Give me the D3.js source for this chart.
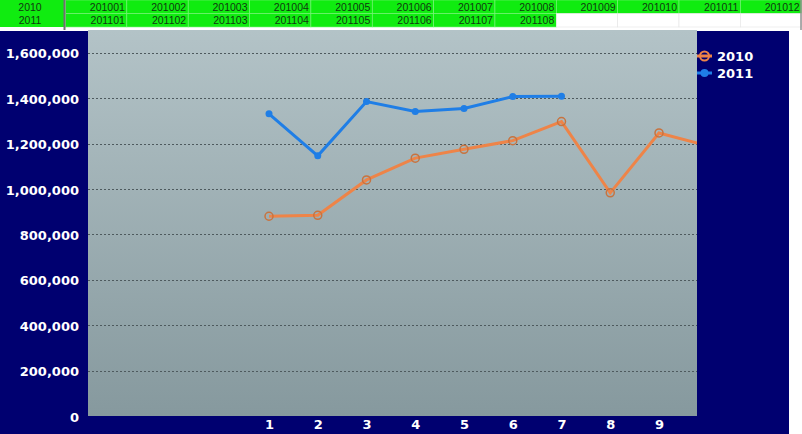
<!DOCTYPE html>
<html>
<head>
<meta charset="utf-8">
<script src="https://cdn.jsdelivr.net/npm/d3@7"></script>
<style>
  body { margin: 0; background: #ffffff; }
  svg { display: block; }
</style>
</head>
<body>
<div id="chart"></div>
<script>
// data
var months = [1, 2, 3, 4, 5, 6, 7, 8, 9, 10];
var tick_months = [1, 2, 3, 4, 5, 6, 7, 8, 9];
var sales_2010 = [880000, 884000, 1040000, 1136000, 1175000, 1213000, 1297000, 983000, 1247000, 1190000];
var sales_2011 = [1331000, 1146000, 1385000, 1341000, 1355000, 1407000, 1409000];
var y_ticks = [0, 200000, 400000, 600000, 800000, 1000000, 1200000, 1400000, 1600000];
var header_years = ['2010', '2011'];
var header_2010 = ['201001', '201002', '201003', '201004', '201005', '201006',
                   '201007', '201008', '201009', '201010', '201011', '201012'];
var header_2011 = ['201101', '201102', '201103', '201104', '201105', '201106',
                   '201107', '201108'];

var chart_width = 802;
var chart_height = 434;
var plot = { left: 88, right: 697, top: 30, bottom: 416 };
var navy = '#000070';
var green = '#10ec10';
var orange = '#ee8448';
var blue = '#1f7ee6';

var svg = d3.select('#chart')
      .append('svg')
      .attr('width', chart_width)
      .attr('height', chart_height);

// spreadsheet strip on top
var col_x0 = 65.5;
var col_w = 61.35;
var row_h = 13.5;

svg.append('rect')
   .attr('x', 0).attr('y', 0)
   .attr('width', 65).attr('height', row_h * 2)
   .attr('fill', green);

header_2010.forEach(function(d, i) {
  svg.append('rect')
     .attr('x', col_x0 + i * col_w).attr('y', 0)
     .attr('width', col_w).attr('height', row_h)
     .attr('fill', green)
     .attr('stroke', '#7cf27c').attr('stroke-width', 0.6);
  svg.append('rect')
     .attr('x', col_x0 + i * col_w).attr('y', row_h)
     .attr('width', col_w).attr('height', row_h)
     .attr('fill', i < header_2011.length ? green : '#ffffff')
     .attr('stroke', i < header_2011.length ? '#7cf27c' : '#e4e4e4')
     .attr('stroke-width', 0.6);
});

var header = svg.append('g')
   .attr('font-family', 'Liberation Sans, Arial, sans-serif')
   .attr('font-size', 10.5)
   .attr('fill', '#103810');

header.selectAll('.year')
   .data(header_years)
   .enter()
   .append('text')
   .attr('x', 30)
   .attr('y', function(d, i) { return 10.5 + i * row_h; })
   .attr('text-anchor', 'middle')
   .text(function(d) { return d; });

header.selectAll('.m2010')
   .data(header_2010)
   .enter()
   .append('text')
   .attr('x', function(d, i) { return col_x0 + (i + 1) * col_w - 2; })
   .attr('y', 10.5)
   .attr('text-anchor', 'end')
   .text(function(d) { return d; });

header.selectAll('.m2011')
   .data(header_2011)
   .enter()
   .append('text')
   .attr('x', function(d, i) { return col_x0 + (i + 1) * col_w - 2; })
   .attr('y', 10.5 + row_h)
   .attr('text-anchor', 'end')
   .text(function(d) { return d; });

svg.append('line')
   .attr('x1', 64.5).attr('x2', 64.5)
   .attr('y1', 0).attr('y2', 30)
   .attr('stroke', '#707070').attr('stroke-width', 2);
svg.append('line')
   .attr('x1', 801).attr('x2', 801)
   .attr('y1', 0).attr('y2', 30)
   .attr('stroke', '#909090').attr('stroke-width', 1.5);

// chart background
svg.append('rect')
   .attr('x', 0).attr('y', 31)
   .attr('width', 789).attr('height', chart_height - 31)
   .attr('fill', navy);

var grad = svg.append('defs')
   .append('linearGradient')
   .attr('id', 'plot-bg')
   .attr('x1', 0).attr('y1', 0).attr('x2', 0).attr('y2', 1);
grad.append('stop').attr('offset', '0%').attr('stop-color', '#b3c3c7');
grad.append('stop').attr('offset', '100%').attr('stop-color', '#86999e');

svg.append('rect')
   .attr('x', plot.left).attr('y', plot.top)
   .attr('width', plot.right - plot.left)
   .attr('height', plot.bottom - plot.top)
   .attr('fill', 'url(#plot-bg)');

svg.append('clipPath')
   .attr('id', 'plot-clip')
   .append('rect')
   .attr('x', plot.left).attr('y', plot.top)
   .attr('width', plot.right - plot.left)
   .attr('height', plot.bottom - plot.top);

// scales
var x_scale = d3.scaleLinear()
      .domain([1, 9])
      .range([269, 659]);

var y_scale = d3.scaleLinear()
      .domain([0, 1700000])
      .range([plot.bottom, plot.bottom - 1700000 / 200000 * 45.4]);

// grid
svg.append('g')
   .selectAll('line')
   .data(y_ticks.slice(1))
   .enter()
   .append('line')
   .attr('x1', plot.left).attr('x2', plot.right)
   .attr('y1', function(d) { return Math.round(y_scale(d)) + 0.5; })
   .attr('y2', function(d) { return Math.round(y_scale(d)) + 0.5; })
   .attr('stroke', '#4e5a5e')
   .attr('stroke-dasharray', '2,2');

// axes
var y_axis = d3.axisLeft(y_scale)
      .tickValues(y_ticks)
      .tickSize(0)
      .tickPadding(9)
      .tickFormat(d3.format(','));

var x_axis = d3.axisBottom(x_scale)
      .tickValues(tick_months)
      .tickSize(0)
      .tickPadding(4)
      .tickFormat(d3.format('d'));

svg.append('g')
   .attr('class', 'y-axis')
   .attr('transform', 'translate(' + plot.left + ', 1)')
   .call(y_axis);

svg.append('g')
   .attr('class', 'x-axis')
   .attr('transform', 'translate(0, ' + plot.bottom + ')')
   .call(x_axis);

svg.selectAll('.domain').remove();
svg.selectAll('.tick text')
   .attr('fill', '#ffffff')
   .attr('font-family', 'DejaVu Sans, Verdana, sans-serif')
   .attr('font-weight', 'bold')
   .attr('font-size', 13);

// lines
var line = d3.line()
      .x(function(d, i) { return x_scale(months[i]); })
      .y(function(d) { return y_scale(d); });

var area = svg.append('g')
   .attr('clip-path', 'url(#plot-clip)');

area.append('path')
   .datum(sales_2010)
   .attr('d', line)
   .attr('fill', 'none')
   .attr('stroke', orange)
   .attr('stroke-width', 3);

area.selectAll('.dot2010')
   .data(sales_2010)
   .enter()
   .append('circle')
   .attr('cx', function(d, i) { return x_scale(months[i]); })
   .attr('cy', function(d) { return y_scale(d); })
   .attr('r', 4)
   .attr('fill', 'none')
   .attr('stroke', '#c8733f')
   .attr('stroke-width', 1.5);

area.append('path')
   .datum(sales_2011)
   .attr('d', line)
   .attr('fill', 'none')
   .attr('stroke', blue)
   .attr('stroke-width', 3);

area.selectAll('.dot2011')
   .data(sales_2011)
   .enter()
   .append('circle')
   .attr('cx', function(d, i) { return x_scale(months[i]); })
   .attr('cy', function(d) { return y_scale(d); })
   .attr('r', 3.5)
   .attr('fill', blue);

// legend
var legend = svg.append('g')
   .attr('font-family', 'DejaVu Sans, Verdana, sans-serif')
   .attr('font-weight', 'bold')
   .attr('font-size', 13)
   .attr('fill', '#ffffff');

legend.append('line')
   .attr('x1', 697).attr('x2', 712).attr('y1', 56).attr('y2', 56)
   .attr('stroke', orange).attr('stroke-width', 3);
legend.append('circle')
   .attr('cx', 704.5).attr('cy', 56).attr('r', 4.5)
   .attr('fill', 'none').attr('stroke', orange).attr('stroke-width', 2);
legend.append('text')
   .attr('x', 717).attr('y', 61)
   .text(header_years[0]);

legend.append('line')
   .attr('x1', 697).attr('x2', 712).attr('y1', 73).attr('y2', 73)
   .attr('stroke', blue).attr('stroke-width', 3);
legend.append('circle')
   .attr('cx', 704.5).attr('cy', 73).attr('r', 4)
   .attr('fill', blue);
legend.append('text')
   .attr('x', 717).attr('y', 78)
   .text(header_years[1]);
</script>
</body>
</html>
